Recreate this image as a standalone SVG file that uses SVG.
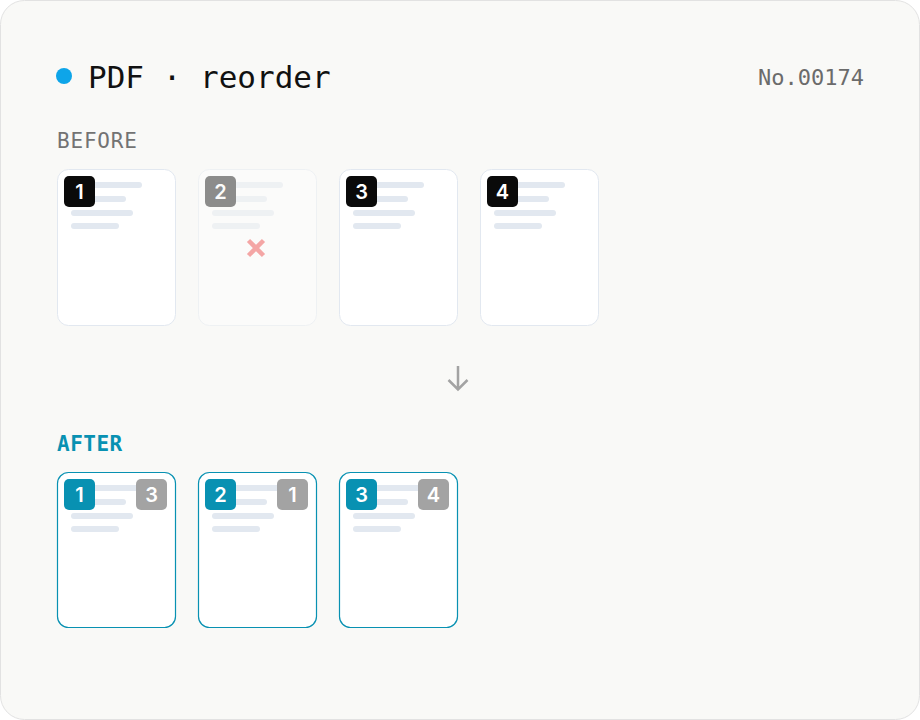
<svg xmlns="http://www.w3.org/2000/svg" width="920" height="720" viewBox="0 0 920 720">
<defs>
<style>
.mono{font-family:"DejaVu Sans Mono","Liberation Mono",monospace}
.page{fill:#ffffff;stroke:#e2e8f0;stroke-width:1}
.pageA{fill:#ffffff;stroke:#0891b2;stroke-width:1.2}
.ln{fill:#e2e8f0}
.bk{fill:#0a0a0a}
.tl{fill:#0891b2}
.gy{fill:#a3a3a3}
.num{font-family:"Inter","DejaVu Sans",sans-serif;font-size:20px;font-weight:600;fill:#ffffff;text-anchor:middle}
</style>
<g id="lines">
<rect class="ln" x="14" y="13" width="71" height="6" rx="3"/>
<rect class="ln" x="14" y="27" width="55" height="6" rx="3"/>
<rect class="ln" x="14" y="41" width="62" height="6" rx="3"/>
<rect class="ln" x="14" y="54" width="48" height="6" rx="3"/>
</g>
</defs>
<rect x="0.5" y="0.5" width="919" height="719" rx="24" fill="#f9f9f7" stroke="#e2e2e2"/>
<g id="header">
<circle cx="64" cy="76" r="8" fill="#0ea5e9"/>
<text class="mono" x="88" y="88" font-size="31" fill="#111111">PDF · reorder</text>
<text class="mono" x="864" y="85" font-size="22" fill="#6b6b6b" text-anchor="end">No.00174</text>
</g>
<text class="mono" x="57" y="148" font-size="21" fill="#737373" letter-spacing="0.8">BEFORE</text>
<g id="before-1" transform="translate(57,169)">
<rect class="page" x="0.5" y="0.5" width="118" height="156" rx="11"/>
<use href="#lines"/>
<rect class="bk" x="7" y="7" width="31" height="31" rx="5"/>
<text class="num" x="22.5" y="29.5">1</text>
</g>
<g id="before-2" transform="translate(198,169)" opacity="0.45">
<rect class="page" x="0.5" y="0.5" width="118" height="156" rx="11"/>
<use href="#lines"/>
<rect class="bk" x="7" y="7" width="31" height="31" rx="5"/>
<text class="num" x="22.5" y="29.5">2</text>
<path d="M50.5,71.5 L65.5,86.5 M65.5,71.5 L50.5,86.5" stroke="#ef4444" stroke-width="4.5" fill="none"/>
</g>
<g id="before-3" transform="translate(339,169)">
<rect class="page" x="0.5" y="0.5" width="118" height="156" rx="11"/>
<use href="#lines"/>
<rect class="bk" x="7" y="7" width="31" height="31" rx="5"/>
<text class="num" x="22.5" y="29.5">3</text>
</g>
<g id="before-4" transform="translate(480,169)">
<rect class="page" x="0.5" y="0.5" width="118" height="156" rx="11"/>
<use href="#lines"/>
<rect class="bk" x="7" y="7" width="31" height="31" rx="5"/>
<text class="num" x="22.5" y="29.5">4</text>
</g>
<g id="connectors">
<path d="M458,366 V389 M448.5,380 L458,389.5 L467.5,380" stroke="#a3a3a3" stroke-width="2.5" fill="none"/>
</g>
<text class="mono" x="57" y="451" font-size="21" font-weight="700" fill="#0891b2" letter-spacing="0.5">AFTER</text>
<g id="after-1" transform="translate(57,472)">
<rect class="pageA" x="0.5" y="0.5" width="118" height="155" rx="11"/>
<use href="#lines"/>
<rect class="tl" x="7" y="7" width="31" height="31" rx="5"/>
<text class="num" x="22.5" y="29.5">1</text>
<rect class="gy" x="79" y="7" width="31" height="31" rx="5"/>
<text class="num" x="94.5" y="29.5">3</text>
</g>
<g id="after-2" transform="translate(198,472)">
<rect class="pageA" x="0.5" y="0.5" width="118" height="155" rx="11"/>
<use href="#lines"/>
<rect class="tl" x="7" y="7" width="31" height="31" rx="5"/>
<text class="num" x="22.5" y="29.5">2</text>
<rect class="gy" x="79" y="7" width="31" height="31" rx="5"/>
<text class="num" x="94.5" y="29.5">1</text>
</g>
<g id="after-3" transform="translate(339,472)">
<rect class="pageA" x="0.5" y="0.5" width="118" height="155" rx="11"/>
<use href="#lines"/>
<rect class="tl" x="7" y="7" width="31" height="31" rx="5"/>
<text class="num" x="22.5" y="29.5">3</text>
<rect class="gy" x="79" y="7" width="31" height="31" rx="5"/>
<text class="num" x="94.5" y="29.5">4</text>
</g>
</svg>
